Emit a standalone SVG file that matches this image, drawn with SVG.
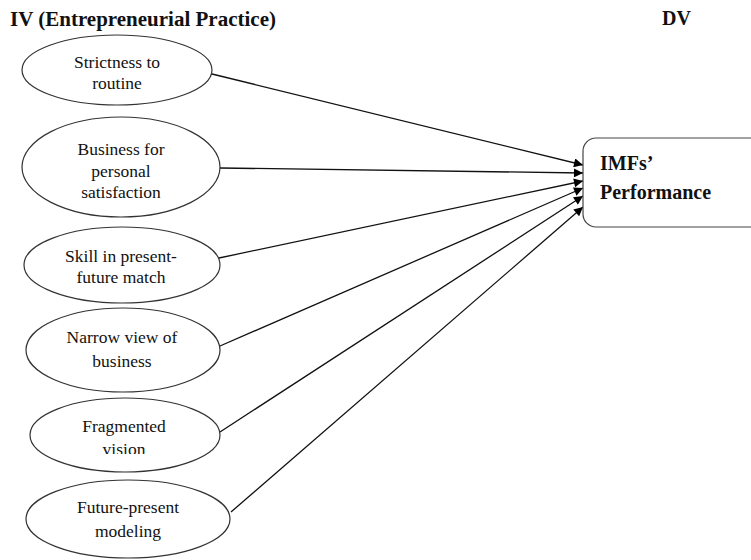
<svg xmlns="http://www.w3.org/2000/svg" width="751" height="560" viewBox="0 0 751 560">
<style>
.node ellipse{fill:#fff;stroke:#333;stroke-width:1.2}
.conn line{stroke:#111;stroke-width:1.3;marker-end:url(#ah)}
</style>
<defs>
<marker id="ah" viewBox="0 0 10 10" refX="10" refY="5" markerWidth="10" markerHeight="9" markerUnits="userSpaceOnUse" orient="auto">
<path d="M0,0 L10,5 L0,10 z" fill="#000"/>
</marker>
<clipPath id="clipv"><rect x="0" y="0" width="751" height="454"/></clipPath>
</defs>
<rect width="751" height="560" fill="#fff"/>
<g font-family="'Liberation Serif', 'Times New Roman', serif" font-weight="bold" font-size="20" fill="#111">
<text x="10" y="26" textLength="266" lengthAdjust="spacingAndGlyphs">IV (Entrepreneurial Practice)</text>
<text x="662" y="25">DV</text>
</g>
<g class="conn" id="connectors">
<line x1="212" y1="74" x2="583" y2="165"/>
<line x1="220" y1="168" x2="583" y2="173"/>
<line x1="219" y1="258" x2="583" y2="181"/>
<line x1="220" y1="346" x2="583" y2="188"/>
<line x1="220" y1="432" x2="583" y2="196"/>
<line x1="231" y1="512" x2="583" y2="207"/>
</g>
<g font-family="'Liberation Serif', 'Times New Roman', serif" font-size="17.5" fill="#111" text-anchor="middle">
<g class="node" id="n1">
<ellipse cx="117" cy="70" rx="95" ry="35"/>
<text x="117" y="68">Strictness to</text>
<text x="117" y="89">routine</text>
</g>
<g class="node" id="n2">
<ellipse cx="121" cy="167" rx="99" ry="50"/>
<text x="121" y="155">Business for</text>
<text x="121" y="177">personal</text>
<text x="121" y="198">satisfaction</text>
</g>
<g class="node" id="n3">
<ellipse cx="122" cy="265" rx="98" ry="38"/>
<text x="121" y="262">Skill in present-</text>
<text x="121" y="283">future match</text>
</g>
<g class="node" id="n4">
<ellipse cx="123" cy="350" rx="97" ry="42"/>
<text x="122" y="343">Narrow view of</text>
<text x="122" y="367">business</text>
</g>
<g class="node" id="n5">
<ellipse cx="125" cy="435" rx="95" ry="37"/>
<text x="124" y="432">Fragmented</text>
<text x="124" y="455" clip-path="url(#clipv)">vision</text>
</g>
<g class="node" id="n6">
<ellipse cx="128" cy="519" rx="102" ry="39"/>
<text x="128" y="513">Future-present</text>
<text x="128" y="537">modeling</text>
</g>
</g>
<g class="node" id="dv" font-family="'Liberation Serif', 'Times New Roman', serif" font-weight="bold" font-size="20" fill="#111">
<rect x="583" y="138" width="190" height="89" rx="13" fill="#fff" stroke="#444" stroke-width="1.2"/>
<text x="600" y="170">IMFs’</text>
<text x="600" y="199">Performance</text>
</g>
</svg>
